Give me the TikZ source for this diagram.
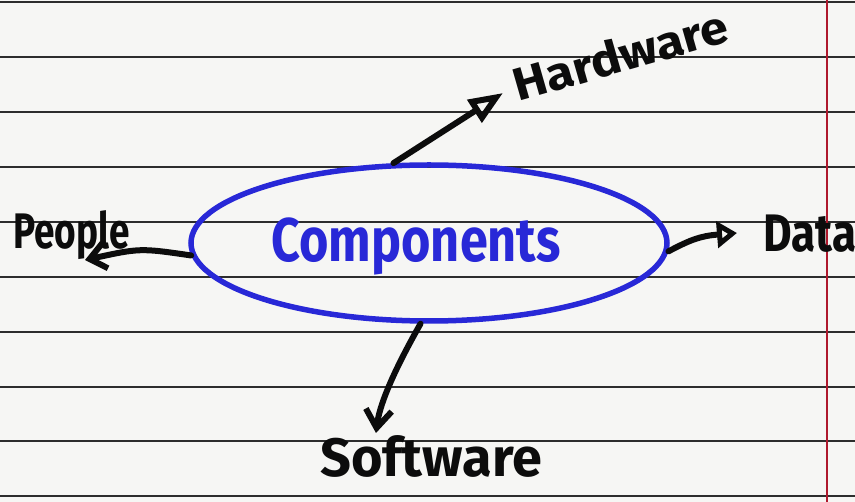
\documentclass[tikz,border=0pt]{standalone}
\usepackage{fontspec}
\setmainfont{Fira Sans}
\usetikzlibrary{arrows.meta,shapes.geometric}
\definecolor{paper}{RGB}{246,246,244}
\definecolor{rulecol}{RGB}{45,45,45}
\definecolor{margincol}{RGB}{175,25,45}
\definecolor{pen}{RGB}{40,40,215}
\definecolor{ink}{RGB}{12,12,12}
\begin{document}
\begin{tikzpicture}[x=1pt,y=-1pt,
  handlabel/.style={text=ink, inner sep=0pt},
  link/.style={draw=ink, line width=6pt, line cap=round, line join=round},
  ruling/.style={draw=rulecol, line width=2.4pt}
]
\fill[paper] (0,0) rectangle (855,502);
\useasboundingbox (0,0) rectangle (855,502);
\foreach \yy in {2,57,112,167,222,277,332,387,441,496}
  \draw[ruling] (0,\yy) -- (855,\yy);
\draw[margincol, line width=1.6pt] (827,0) -- (827,502);

% centre ellipse
\node[ellipse, draw=pen, line width=5.5pt, minimum width=476pt, minimum height=156pt, inner sep=0pt] (comp) at (429,243) {};
\node[anchor=base, font=\bfseries\fontsize{56}{60}\selectfont, text=pen, xscale=0.9, yscale=1.1, inner sep=0pt] (comptext) at (416,262) {Components};

% labels
\node[handlabel, anchor=base west, rotate=16, xscale=1.1, font=\bfseries\fontsize{46}{50}\selectfont] (hw) at (518,102) {Hardware};
\node[handlabel, anchor=base west, yscale=1.35, font=\bfseries\fontsize{37}{40}\selectfont] (ppl) at (13,249) {People};
\node[handlabel, anchor=base west, yscale=1.2, font=\bfseries\fontsize{44}{48}\selectfont] (data) at (763,252) {Data};
\node[handlabel, anchor=base west, font=\bfseries\fontsize{54}{58}\selectfont] (sw) at (320,477) {Software};

% arrow tips
\coordinate (hwtip) at (503,93);
\coordinate (ppltip) at (85,260);
\coordinate (datatip) at (737,233);
\coordinate (swtip) at (376,433);

% connectors
\draw[link, -{Triangle[open,length=34pt,width=26pt]}] (comp.114) -- (hwtip);
\draw[link, -{Straight Barb[length=16pt,width=26pt]}] (comp.183) .. controls (140,248) .. (ppltip);
\draw[link, -{Triangle[open,length=20pt,width=26pt]}] (comp.-2) .. controls (690,240) and (700,236) .. (datatip);
\draw[link, -{Straight Barb[length=18pt,width=26pt]}] (comp.-96) .. controls (400,360) and (380,400) .. (swtip);
\end{tikzpicture}
\end{document}
